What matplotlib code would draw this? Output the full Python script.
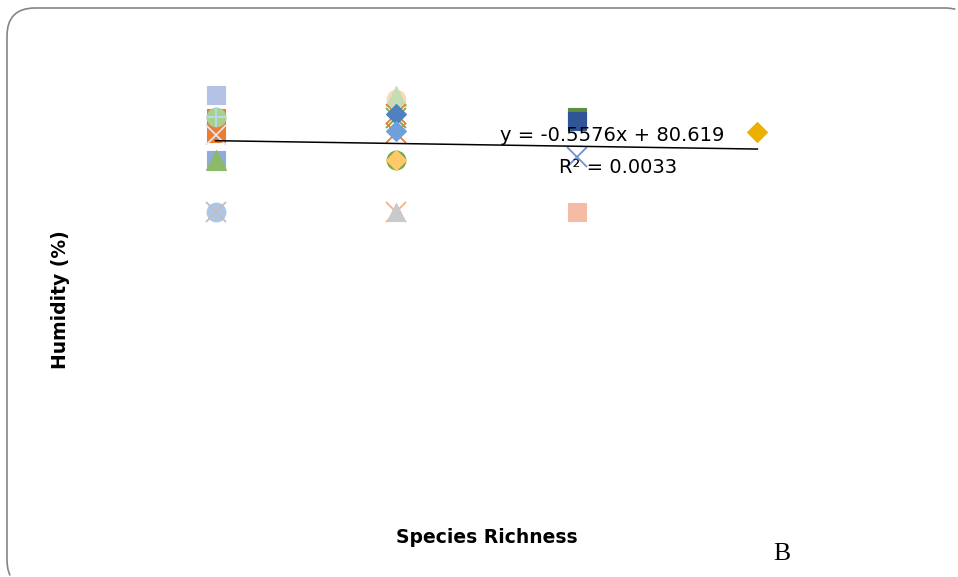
import matplotlib
matplotlib.use("Agg")
import matplotlib.pyplot as plt
from matplotlib.patches import FancyBboxPatch
from matplotlib.lines import Line2D
from matplotlib.transforms import IdentityTransform
import numpy as np

# ---- data ----
richness = [1, 1, 1, 1, 1, 1, 1, 1, 1, 1,
            2, 2, 2, 2, 2, 2, 2, 2, 2, 2,
            3, 3, 3, 3,
            4]
humidity = [89.3, 81.7, 84.7, 84.9, 84.9, 81.3, 76.3, 76.3, 65.9, 65.9,
            88.4, 89.1, 84.7, 85.5, 85.5, 81.7, 82.1, 76.3, 76.3, 65.9,
            84.9, 84.1, 76.9, 65.9,
            81.9]
trend_slope = -0.5576
trend_intercept = 80.619
r_squared = 0.0033

# ---- styles (one per point, drawn in order) ----
markers = ['s', 's', 's', 'o', '+', 'x', 's', '^', 'o', 'x',
           'o', '^', 'x', 'x', 'D', 'x', 'D', 'o', 'D', 'x',
           's', 's', 'x', 's',
           'D']
colors = ['#B4C2E5', '#ED7D31', '#E47A35', '#A9D18E', '#BDD7EE', '#DCE6F4',
          '#8FAADC', '#8CBA68', '#ADC5E6', '#BFBFBF',
          '#F8D9BC', '#C5DDB4', '#70AD47', '#ED7D31', '#4E81BD', '#ED7D31',
          '#6FA0DC', '#70AD47', '#FFC869', '#F4B183',
          '#5E8F3E', '#2F5597', '#6F8FD8', '#F4BBA5',
          '#EDB000']
# gray triangle drawn on top of the peach X in column 2
extra_x = [2]
extra_y = [65.9]

W, H = 958, 577
fig = plt.figure(figsize=(W / 100, H / 100), dpi=100)
fig.patch.set_facecolor('white')

# axes placed in pixel terms: x 35..938, y 41..491
ax = fig.add_axes([35 / W, 1 - 491 / H, (938 - 35) / W, 450 / H])
ax.set_xlim(0, 5)
ax.set_ylim(10, 100)
ax.set_axis_off()

sizes = {'s': 13.5, 'o': 13.5, '^': 14.5, 'D': 10.2, 'x': 14.5, '+': 14.0}
for xv, yv, m, c in zip(richness, humidity, markers, colors):
    if m in ('x', '+'):
        ax.plot([xv], [yv], linestyle='none', marker=m, markersize=sizes[m],
                color=c, markeredgewidth=1.3, zorder=3)
    else:
        ax.plot([xv], [yv], linestyle='none', marker=m, markersize=sizes[m],
                markerfacecolor=c, markeredgecolor=c, markeredgewidth=0.8, zorder=3)

ax.plot(extra_x, extra_y, linestyle='none', marker='^', markersize=13.5,
        markerfacecolor='#C9C9C9', markeredgecolor='#C9C9C9', markeredgewidth=0.8, zorder=3)

# trendline
tx = np.array([min(richness), max(richness)], dtype=float)
ax.plot(tx, trend_slope * tx + trend_intercept, color='black', linewidth=1.1, zorder=4)

# trendline label
fig.text(612 / W, 1 - 141 / H, f"y = {trend_slope}x + {trend_intercept}",
         ha='center', va='baseline', fontsize=14, family='DejaVu Sans', zorder=5)
fig.text(618 / W, 1 - 173 / H, f"R\u00b2 = {r_squared:.4f}",
         ha='center', va='baseline', fontsize=14, family='DejaVu Sans', zorder=5)

# axis titles
fig.text(487 / W, 1 - 543 / H, "Species Richness", ha='center', va='baseline',
         fontsize=13.5, fontweight='bold', family='DejaVu Sans')
fig.text(60 / W, 1 - 300 / H, "Humidity (%)", ha='center', va='center',
         rotation=90, fontsize=13.5, fontweight='bold', family='DejaVu Sans')

# panel letter
fig.text(773 / W, 1 - 560 / H, "B", ha='left', va='baseline',
         fontsize=18.5, family='Liberation Serif')

# rounded frame in pixel coordinates (extends beyond right and bottom edges)
box = FancyBboxPatch((7, H - 588), 966, 580,
                     boxstyle="round,pad=0,rounding_size=28")
poly = box.get_path().to_polygons(closed_only=False)
for p in poly:
    p = np.asarray(p)
    # keep only the part of the outline that lies inside the canvas
    inside = (p[:, 0] <= W + 0.5) & (p[:, 1] >= -0.5)
    seg_start = None
    for i in range(len(p) + 1):
        ok = inside[i] if i < len(p) else False
        if ok and seg_start is None:
            seg_start = i
        if (not ok) and seg_start is not None:
            q = p[seg_start:i]
            if len(q) > 1:
                fig.add_artist(Line2D(q[:, 0], q[:, 1], transform=IdentityTransform(),
                                      color='#858585', linewidth=1.2))
            seg_start = None

fig.savefig("out.png", dpi=100)
